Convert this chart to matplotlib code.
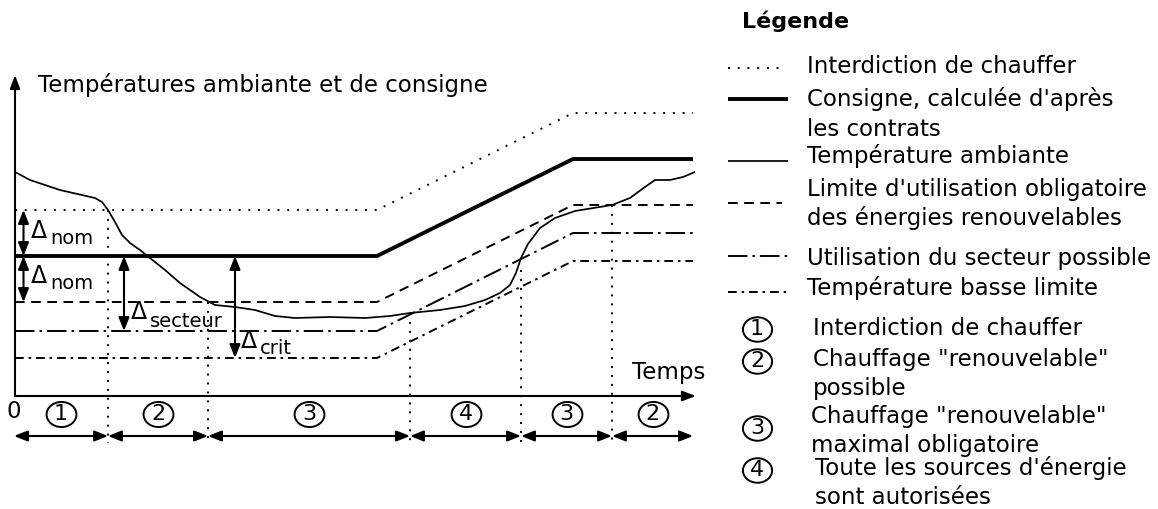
import matplotlib
matplotlib.use("Agg")
import matplotlib.pyplot as plt
from matplotlib.path import Path
import numpy as np

# ---------------- data ----------------
# piecewise-linear limit curves: time breakpoints and levels
t_knots = [0.0, 36.2, 55.8, 67.8]
interdiction = [18.6, 18.6, 28.3, 28.3]
consigne = [14.0, 14.0, 23.7, 23.7]
limite_renouv = [9.4, 9.4, 19.1, 19.1]
secteur = [6.5, 6.5, 16.3, 16.3]
basse_limite = [3.8, 3.8, 13.5, 13.5]

# ambient temperature
amb_t = [0.0, 1.5, 4.5, 8.0, 8.7, 9.3, 10.0, 10.7, 11.5, 12.5, 13.5, 15.0, 16.5,
         18.5, 20.0, 22.0, 24.0, 26.0, 28.0, 31.5, 35.0, 37.5, 39.5, 42.5, 45.0,
         47.0, 48.5, 49.5, 50.1, 50.6, 51.3, 52.5, 54.0, 56.0, 59.7, 61.5, 63.0,
         64.0, 65.5, 66.8, 68.0]
amb_T = [22.4, 21.6, 20.6, 19.8, 19.4, 18.6, 17.4, 16.1, 15.3, 14.6, 13.8, 12.6, 11.3,
         9.9, 9.1, 8.9, 8.6, 8.0, 7.8, 7.9, 7.8, 8.0, 8.3, 8.6, 9.0,
         9.6, 10.3, 11.1, 12.3, 13.8, 15.2, 16.8, 17.8, 18.5, 19.1, 19.8, 20.9,
         21.6, 21.6, 21.9, 22.4]

# phase boundaries (time) and phase labels
phase_bounds = [-0.1, 9.3, 19.3, 39.5, 50.6, 59.7, 67.8]
phase_labels = ["1", "2", "3", "4", "3", "2"]
# top of the dotted separators (where the events happen)
sep_tops = [18.6, 9.4, 8.3, 12.6, 19.1]

legend_lines = ["Interdiction de chauffer",
                "Consigne, calculée d'après\nles contrats",
                "Température ambiante",
                "Limite d'utilisation obligatoire\ndes énergies renouvelables",
                "Utilisation du secteur possible",
                "Température basse limite"]
phase_desc = ["Interdiction de chauffer",
              "Chauffage \"renouvelable\"\npossible",
              "Chauffage \"renouvelable\"\nmaximal obligatoire",
              "Toute les sources d'énergie\nsont autorisées"]

# ---------------- styles ----------------
DOT = (0, (1, 4))
DASH = (0, (5, 3.3))
DASHDOT = (0, (10, 2.6, 1.3, 2.6))
DASHDOTDOT = (0, (4.5, 2.5, 1.3, 2.5))
styles = [dict(ls=DOT, lw=1.4), dict(ls="-", lw=2.8), dict(ls="-", lw=1.25),
          dict(ls=DASH, lw=1.4), dict(ls=DASHDOT, lw=1.4), dict(ls=DASHDOTDOT, lw=1.4)]

W, H = 1158, 509
fig = plt.figure(figsize=(W / 100, H / 100), dpi=100)
FS = 16.5
SUBFS = 14
CFS = 16
HEAD = "<|-|>,head_length=0.8,head_width=0.32"
HEAD1 = "-|>,head_length=0.8,head_width=0.3"

circ = Path.unit_circle()
ell = Path(circ.vertices * np.array([1.0, 0.84]), circ.codes)

# data axes
x0, x1, yb, yt = 15, 695, 396, 75
ax = fig.add_axes([x0 / W, (H - yb) / H, (x1 - x0) / W, (yb - yt) / H])
ax.set_xlim(0, 68)
ax.set_ylim(0, 32.1)
ax.axis("off")

for series, st in zip([interdiction, consigne, None, limite_renouv, secteur, basse_limite], styles):
    if series is None:
        ax.plot(amb_t, amb_T, color="black", solid_joinstyle="round", **st)
    else:
        ax.plot(t_knots, series, color="black", solid_capstyle="butt", dash_capstyle="butt", **st)

# axes arrows
ax.annotate("", xy=(68.1, 0), xytext=(0, 0), annotation_clip=False,
            arrowprops=dict(arrowstyle=HEAD1, lw=1.5, color="black", shrinkA=0, shrinkB=0))
ax.annotate("", xy=(0, 32.1), xytext=(0, 0), annotation_clip=False,
            arrowprops=dict(arrowstyle=HEAD1, lw=1.5, color="black", shrinkA=0, shrinkB=0))
ax.text(2.3, 31.1, "Températures ambiante et de consigne", fontsize=FS, va="center", ha="left")
ax.text(69.0, 2.3, "Temps", fontsize=FS, va="center", ha="right")
ax.text(-0.1, -1.6, "0", fontsize=FS, va="center", ha="center", clip_on=False)

# separators
for tb, top in zip(phase_bounds[1:-1], sep_tops):
    ax.plot([tb, tb], [top, -4.7], color="black", ls=(0, (1, 3.6)), lw=1.4, clip_on=False)

# phase arrows and circled labels
for a, b, lab in zip(phase_bounds[:-1], phase_bounds[1:], phase_labels):
    ax.annotate("", xy=(b, -4.0), xytext=(a, -4.0), annotation_clip=False,
                arrowprops=dict(arrowstyle=HEAD, lw=1.5, color="black", shrinkA=0, shrinkB=0))
    xm = (a + b) / 2
    ax.plot([xm], [-1.75], marker=ell, ms=21.5, mfc="none", mec="black", mew=1.4, clip_on=False)
    ax.text(xm, -1.75, lab, fontsize=CFS, ha="center", va="center", clip_on=False)

# delta annotations
def delta(xa, y_top, y_bot, label, lx, ly, dy):
    ax.annotate("", xy=(xa, y_bot), xytext=(xa, y_top), annotation_clip=False,
                arrowprops=dict(arrowstyle=HEAD, lw=1.5, color="black", shrinkA=0, shrinkB=0))
    ax.annotate("Δ", xy=(lx, ly), fontsize=FS + 0.5, ha="left", va="baseline")
    ax.annotate(label, xy=(lx, ly), xytext=(13.9, -dy), textcoords="offset points",
                fontsize=SUBFS, ha="left", va="baseline")

delta(0.85, interdiction[0], consigne[0], "nom", 1.6, 15.8, 4.3)
delta(0.85, consigne[0], limite_renouv[0], "nom", 1.6, 11.3, 4.3)
delta(10.9, consigne[0], secteur[0], "secteur", 11.6, 7.7, 5.5)
delta(22.0, consigne[0], basse_limite[0], "crit", 22.6, 4.8, 4.0)

# ---------------- legend (figure pixel coordinates) ----------------
lg = fig.add_axes([0, 0, 1, 1])
lg.set_xlim(0, W)
lg.set_ylim(H, 0)
lg.axis("off")
lg.text(742, 28, "Légende", fontsize=FS - 0.5, fontweight="bold", va="baseline", ha="left")
samp_y = [68, 99, 161, 203, 256, 292]
samp_x1 = [782, 788, 788, 782, 788, 788]
text_y = [65, 98, 155, 188, 257, 287]
for sy, sx, ty, txt, st in zip(samp_y, samp_x1, text_y, legend_lines, styles):
    lg.plot([728, sx], [sy, sy], color="black", solid_capstyle="butt", dash_capstyle="butt", **st)
    for k, line in enumerate(txt.split("\n")):
        lg.text(807, ty + 8 + 29.5 * k, line, fontsize=FS, va="baseline", ha="left")

circ_y = [329, 361, 428, 470]
desc_y = [327, 358, 415, 467]
desc_x = [813, 813, 811, 815]
for k, (cy, dy, dx, txt) in enumerate(zip(circ_y, desc_y, desc_x, phase_desc)):
    lg.plot([757], [cy], marker=ell, ms=21, mfc="none", mec="black", mew=1.4)
    lg.text(757, cy, str(k + 1), fontsize=CFS, ha="center", va="center")
    for j, line in enumerate(txt.split("\n")):
        lg.text(dx, dy + 8 + 29 * j, line, fontsize=FS, va="baseline", ha="left")

fig.savefig("out.png", dpi=100)
